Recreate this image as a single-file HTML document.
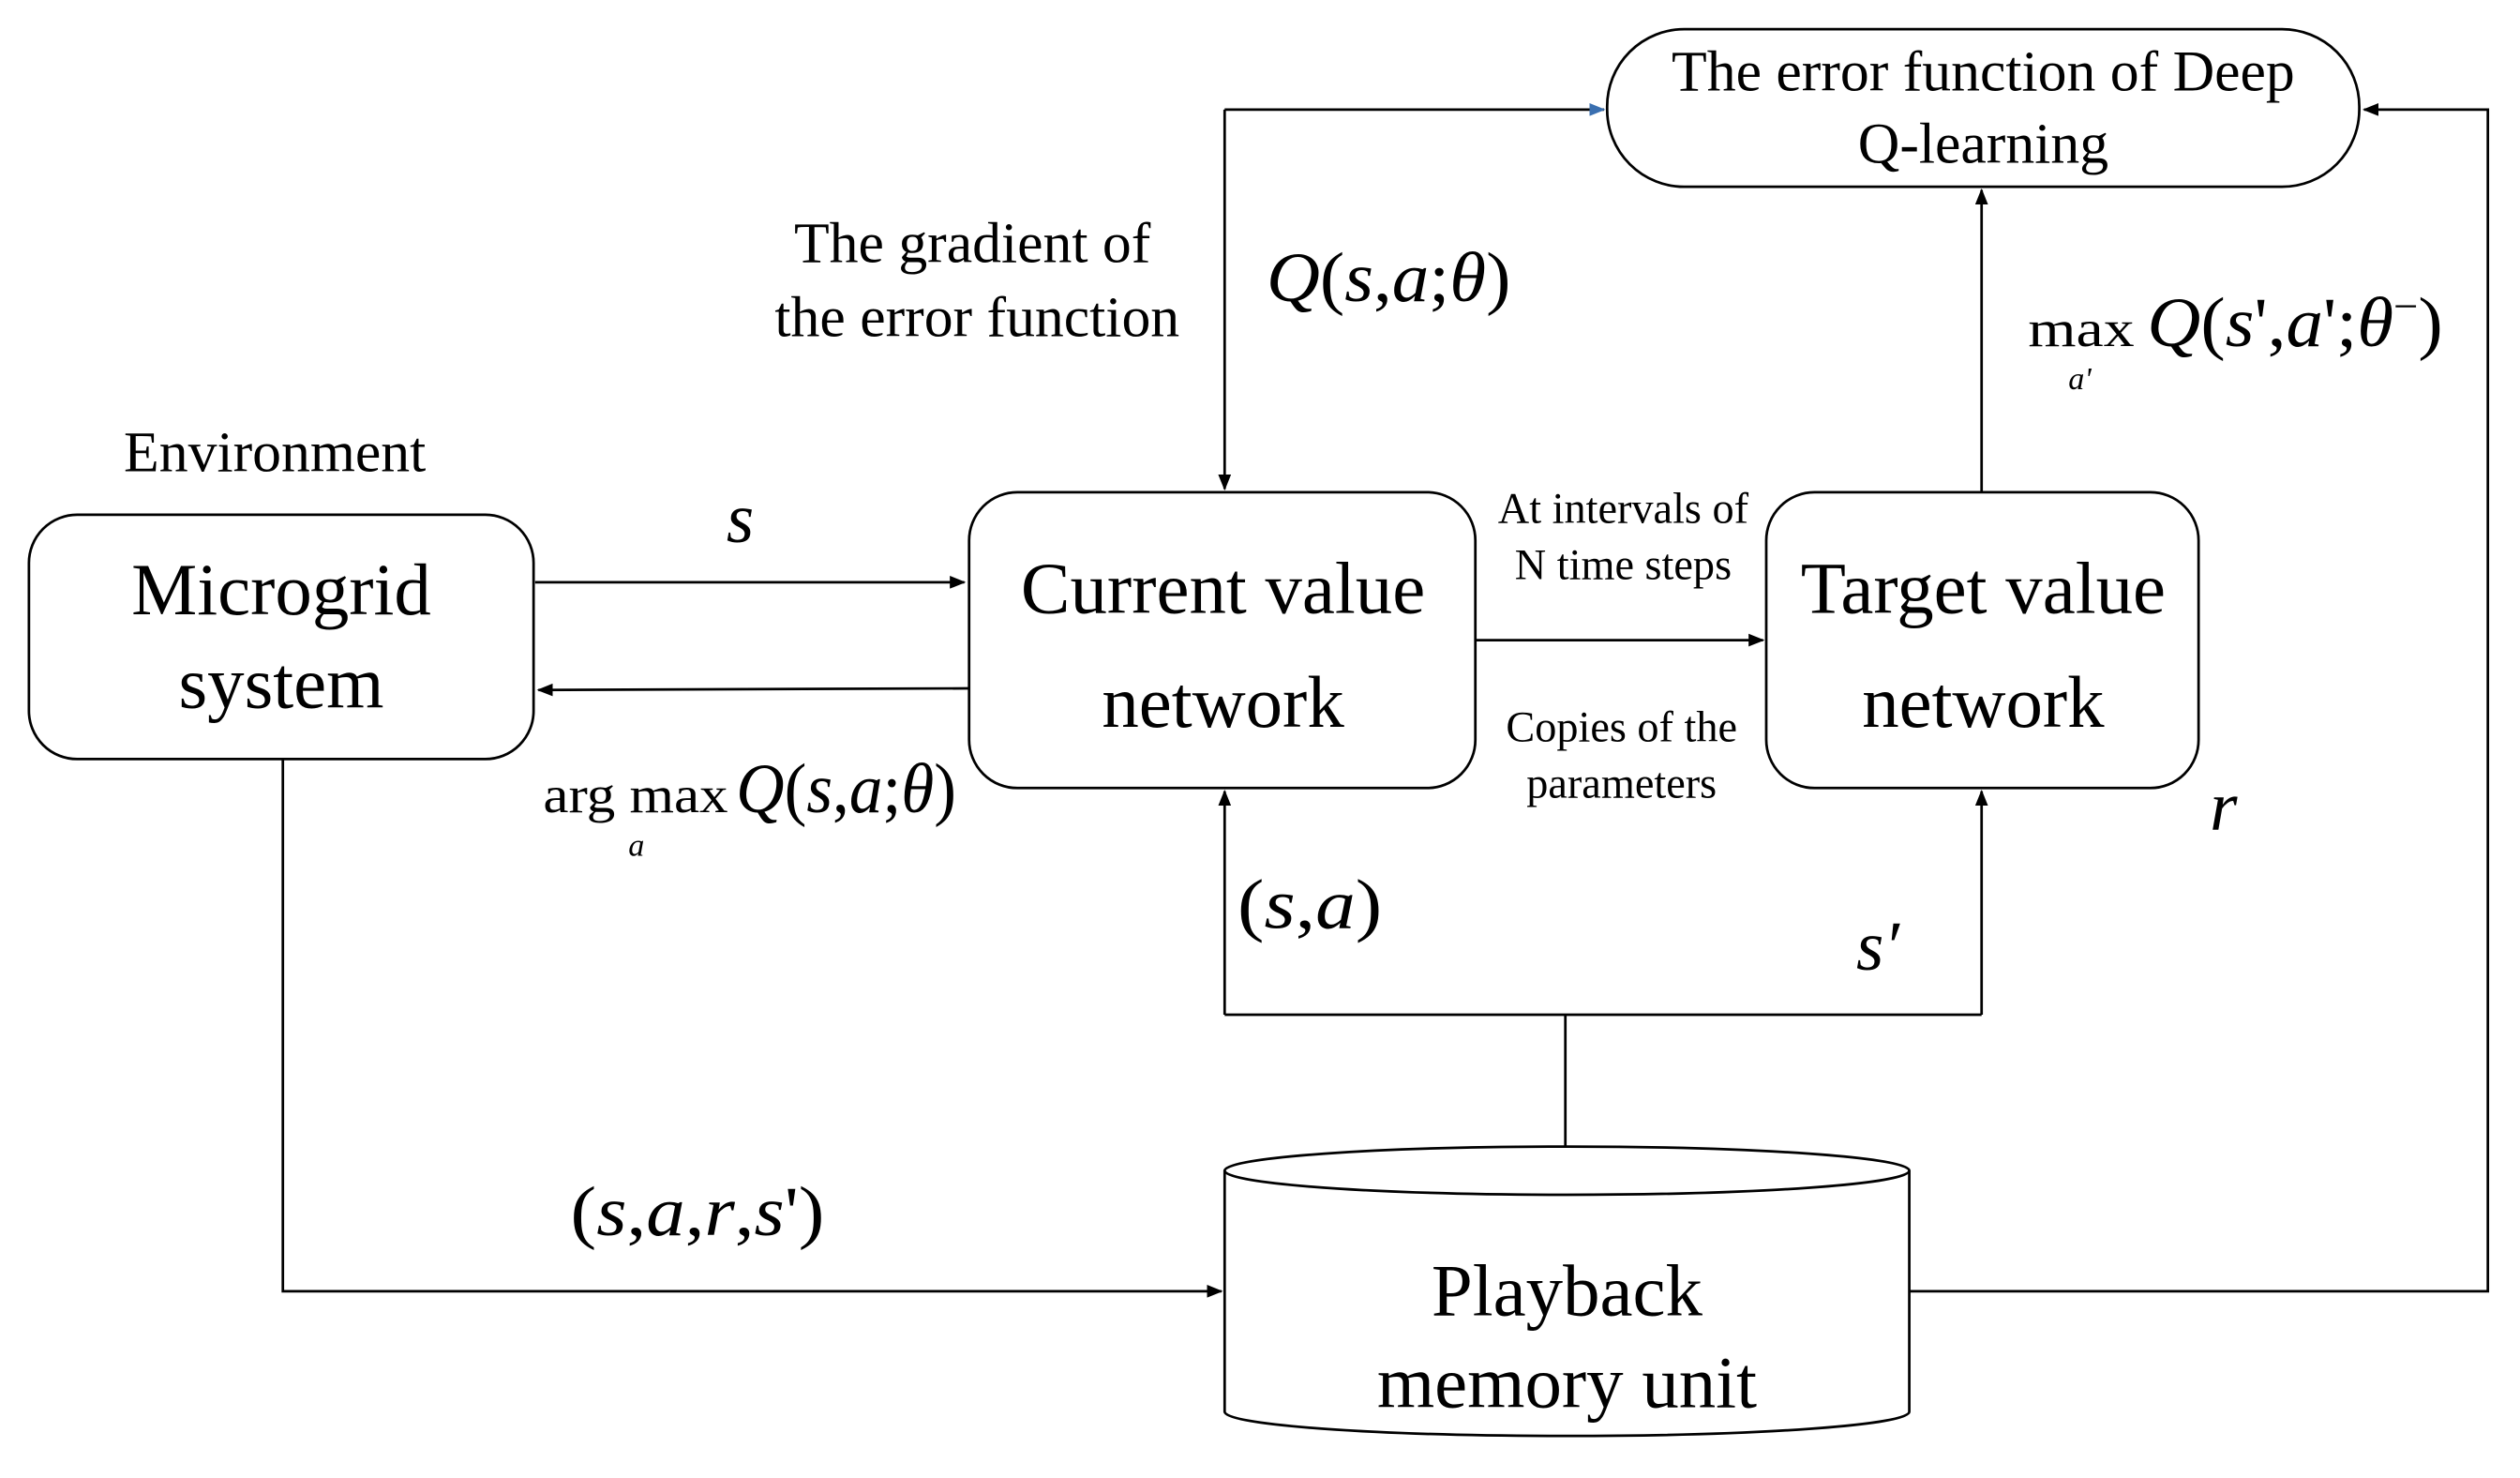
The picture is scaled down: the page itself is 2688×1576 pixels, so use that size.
<!DOCTYPE html>
<html><head><meta charset="utf-8"><style>
html,body{margin:0;padding:0;background:#fff}
svg{display:block}
text{font-family:"Liberation Serif","DejaVu Serif",serif;fill:#000}
.i{font-style:italic}
</style></head><body>
<svg width="2688" height="1576" viewBox="0 0 1568 919" xmlns="http://www.w3.org/2000/svg">
<defs>
<marker id="a" markerWidth="10" markerHeight="8" refX="9" refY="4" orient="auto" markerUnits="userSpaceOnUse"><path d="M0,0 L10,4 L0,8 z" fill="#000"/></marker>
<marker id="b" markerWidth="10" markerHeight="8" refX="9" refY="4" orient="auto" markerUnits="userSpaceOnUse"><path d="M0,0 L10,4 L0,8 z" fill="#3a6fb0"/></marker>
</defs>
<g fill="none" stroke="#000" stroke-width="1.6">
<rect x="1000" y="18" width="468" height="98" rx="48"/>
<rect x="18" y="320" width="314" height="152" rx="30"/>
<rect x="603" y="306" width="315" height="184" rx="30"/>
<rect x="1099" y="306" width="269" height="184" rx="30"/>
<path d="M762,728 L762,878 A213,15 0 0 0 1188,878 L1188,728"/>
<ellipse cx="975" cy="728" rx="213" ry="15"/>
<line x1="333" y1="362" x2="600" y2="362" marker-end="url(#a)"/>
<line x1="603" y1="428" x2="335" y2="429" marker-end="url(#a)"/>
<line x1="918" y1="398" x2="1097" y2="398" marker-end="url(#a)"/>
<line x1="762" y1="68" x2="998" y2="68" marker-end="url(#b)"/>
<line x1="762" y1="68" x2="762" y2="304" marker-end="url(#a)"/>
<line x1="1233" y1="306" x2="1233" y2="118" marker-end="url(#a)"/>
<polyline points="1188,803 1548,803 1548,68 1471,68" marker-end="url(#a)"/>
<polyline points="176,472 176,803 760,803" marker-end="url(#a)"/>
<line x1="974" y1="713" x2="974" y2="631"/>
<line x1="762" y1="631" x2="1233" y2="631"/>
<line x1="762" y1="631" x2="762" y2="492" marker-end="url(#a)"/>
<line x1="1233" y1="631" x2="1233" y2="492" marker-end="url(#a)"/>
</g>
<g text-anchor="middle">
<text x="1234" y="56" font-size="36">The error function of Deep</text>
<text x="1234" y="101" font-size="36">Q-learning</text>
<text x="175" y="382" font-size="46">Microgrid</text>
<text x="175" y="440" font-size="46">system</text>
<text x="761" y="381" font-size="46">Current value</text>
<text x="761" y="452" font-size="46">network</text>
<text x="1234" y="381" font-size="46">Target value</text>
<text x="1234" y="452" font-size="46">network</text>
<text x="975" y="818" font-size="46">Playback</text>
<text x="975" y="875" font-size="46">memory unit</text>
<text x="171" y="293" font-size="36">Environment</text>
<text x="605" y="163" font-size="36">The gradient of</text>
<text x="608" y="209" font-size="36">the error function</text>
<text x="1010" y="325" font-size="27">At intervals of</text>
<text x="1010" y="360" font-size="27">N time steps</text>
<text x="1009" y="461" font-size="27">Copies of the</text>
<text x="1009" y="496" font-size="27">parameters</text>
</g>
<text x="788" y="187" font-size="44" textLength="152" lengthAdjust="spacingAndGlyphs"><tspan class="i">Q</tspan>(<tspan class="i">s</tspan>,<tspan class="i">a</tspan>;<tspan class="i">θ</tspan>)</text>
<text x="452" y="337" font-size="44" class="i">s</text>
<text x="338" y="505" font-size="32" textLength="115" lengthAdjust="spacingAndGlyphs">arg max</text>
<text x="391" y="532" font-size="20" class="i">a</text>
<text x="458" y="505" font-size="44" textLength="137" lengthAdjust="spacingAndGlyphs"><tspan class="i">Q</tspan>(<tspan class="i">s</tspan>,<tspan class="i">a</tspan>;<tspan class="i">θ</tspan>)</text>
<text x="1262" y="215" font-size="32" textLength="66" lengthAdjust="spacingAndGlyphs">max</text>
<text x="1287" y="242" font-size="20" class="i">a'</text>
<text x="1336" y="215" font-size="44" textLength="184" lengthAdjust="spacingAndGlyphs"><tspan class="i">Q</tspan>(<tspan class="i">s</tspan>',<tspan class="i">a</tspan>';<tspan class="i">θ</tspan><tspan font-size="26" dy="-16">−</tspan><tspan dy="16">)</tspan></text>
<text x="1375" y="516" font-size="44" class="i">r</text>
<text x="770" y="577" font-size="44" textLength="90" lengthAdjust="spacingAndGlyphs">(<tspan class="i">s</tspan>,<tspan class="i">a</tspan>)</text>
<text x="1155" y="603" font-size="44" class="i">s′</text>
<text x="355" y="768" font-size="44" textLength="158" lengthAdjust="spacingAndGlyphs">(<tspan class="i">s</tspan>,<tspan class="i">a</tspan>,<tspan class="i">r</tspan>,<tspan class="i">s</tspan>')</text>
</svg>
</body></html>
